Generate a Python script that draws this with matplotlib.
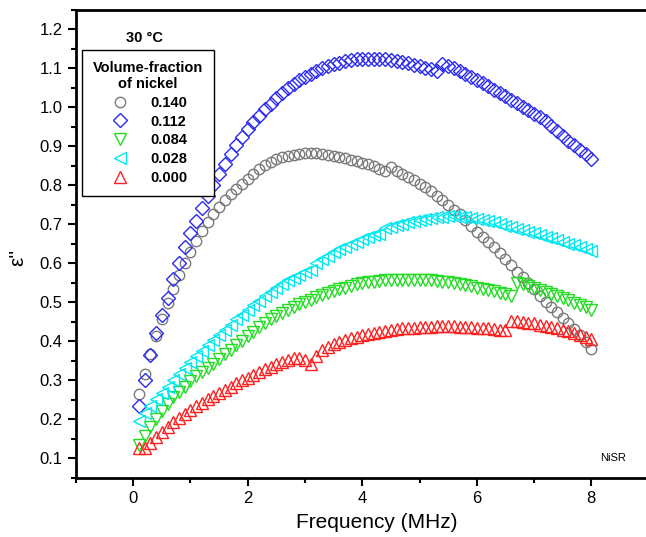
import matplotlib
matplotlib.use("Agg")
import matplotlib.pyplot as plt
from matplotlib.ticker import MultipleLocator

plt.rcParams['font.family'] = ['Liberation Sans', 'DejaVu Sans']

freq = [round(0.1 * i, 1) for i in range(1, 81)]

eps_0140 = [0.264, 0.317, 0.368, 0.414, 0.457, 0.497, 0.534, 0.570, 0.600, 0.630,
            0.658, 0.684, 0.705, 0.726, 0.744, 0.762, 0.778, 0.791, 0.804, 0.816,
            0.830, 0.843, 0.853, 0.861, 0.867, 0.872, 0.876, 0.879, 0.881, 0.882,
            0.882, 0.882, 0.881, 0.879, 0.876, 0.873, 0.870, 0.866, 0.862, 0.858,
            0.854, 0.849, 0.843, 0.836, 0.846, 0.838, 0.830, 0.822, 0.813, 0.803,
            0.795, 0.785, 0.774, 0.762, 0.750, 0.738, 0.726, 0.711, 0.696, 0.680,
            0.667, 0.654, 0.641, 0.627, 0.611, 0.595, 0.579, 0.564, 0.549, 0.533,
            0.515, 0.500, 0.487, 0.474, 0.461, 0.447, 0.432, 0.415, 0.398, 0.381]

eps_0112 = [0.235, 0.301, 0.366, 0.422, 0.467, 0.512, 0.559, 0.602, 0.641, 0.679,
            0.709, 0.742, 0.774, 0.802, 0.830, 0.856, 0.880, 0.903, 0.924, 0.944,
            0.962, 0.979, 0.995, 1.010, 1.024, 1.037, 1.049, 1.060, 1.070, 1.079,
            1.087, 1.094, 1.100, 1.106, 1.111, 1.115, 1.118, 1.121, 1.123, 1.124,
            1.125, 1.125, 1.124, 1.123, 1.121, 1.119, 1.116, 1.113, 1.110, 1.106,
            1.102, 1.098, 1.093, 1.112, 1.106, 1.100, 1.093, 1.086, 1.078, 1.070,
            1.062, 1.054, 1.046, 1.038, 1.029, 1.020, 1.011, 1.002, 0.993, 0.984,
            0.975, 0.965, 0.953, 0.940, 0.927, 0.914, 0.903, 0.892, 0.880, 0.868]

eps_0084 = [0.135, 0.158, 0.180, 0.201, 0.221, 0.240, 0.256, 0.270, 0.284, 0.298,
            0.310, 0.321, 0.332, 0.343, 0.355, 0.367, 0.378, 0.390, 0.402, 0.414,
            0.425, 0.436, 0.446, 0.456, 0.465, 0.473, 0.481, 0.488, 0.495, 0.501,
            0.507, 0.513, 0.519, 0.524, 0.529, 0.534, 0.538, 0.542, 0.546, 0.549,
            0.551, 0.553, 0.555, 0.556, 0.557, 0.558, 0.558, 0.558, 0.558, 0.558,
            0.557, 0.556, 0.555, 0.553, 0.551, 0.549, 0.547, 0.544, 0.541, 0.538,
            0.535, 0.532, 0.529, 0.525, 0.521, 0.517, 0.550, 0.546, 0.542, 0.537,
            0.532, 0.527, 0.522, 0.516, 0.511, 0.505, 0.499, 0.493, 0.487, 0.481]

eps_0028 = [0.195, 0.215, 0.233, 0.251, 0.268, 0.284, 0.300, 0.316, 0.331, 0.346,
            0.361, 0.376, 0.390, 0.404, 0.417, 0.430, 0.443, 0.456, 0.468, 0.480,
            0.492, 0.504, 0.515, 0.526, 0.536, 0.546, 0.556, 0.563, 0.570, 0.578,
            0.584, 0.600, 0.610, 0.619, 0.628, 0.636, 0.643, 0.650, 0.656, 0.662,
            0.667, 0.672, 0.676, 0.690, 0.694, 0.698, 0.702, 0.706, 0.709, 0.712,
            0.715, 0.717, 0.719, 0.720, 0.721, 0.721, 0.720, 0.719, 0.717, 0.714,
            0.711, 0.708, 0.705, 0.701, 0.697, 0.693, 0.689, 0.685, 0.681, 0.677,
            0.673, 0.668, 0.664, 0.659, 0.655, 0.650, 0.646, 0.641, 0.637, 0.632]

eps_0000 = [0.125, 0.126, 0.140, 0.155, 0.168, 0.180, 0.192, 0.203, 0.213, 0.223,
            0.233, 0.242, 0.251, 0.260, 0.268, 0.276, 0.284, 0.292, 0.300, 0.307,
            0.314, 0.321, 0.328, 0.335, 0.341, 0.347, 0.353, 0.358, 0.358, 0.352,
            0.342, 0.362, 0.377, 0.386, 0.393, 0.399, 0.404, 0.408, 0.412, 0.416,
            0.419, 0.422, 0.425, 0.427, 0.429, 0.431, 0.433, 0.434, 0.435, 0.436,
            0.437, 0.437, 0.438, 0.438, 0.438, 0.438, 0.437, 0.437, 0.436, 0.435,
            0.434, 0.433, 0.432, 0.430, 0.428, 0.453, 0.452, 0.450, 0.448, 0.446,
            0.443, 0.440, 0.437, 0.434, 0.430, 0.426, 0.422, 0.417, 0.412, 0.407]

labels = ['0.140', '0.112', '0.084', '0.028', '0.000']
series = [eps_0140, eps_0112, eps_0084, eps_0028, eps_0000]
markers = ['o', 'D', 'v', '<', '^']
colors = ['#7a7a7a', '#2a2af0', '#22dd22', '#00e8f0', '#ff2020']
sizes = [7.5, 7, 8.5, 8.5, 8.5]

fig = plt.figure(figsize=(6.46, 5.37), dpi=100)
ax = fig.add_axes([0.1176, 0.1104, 0.8864, 0.871])

for y, lab, m, c, s in zip(series, labels, markers, colors, sizes):
    ax.plot(freq, y, linestyle='none', marker=m, markersize=s,
            markerfacecolor='none', markeredgecolor=c, markeredgewidth=1.0,
            label=lab)

ax.set_xlim(-1, 9)
ax.set_ylim(0.05, 1.25)
ax.xaxis.set_major_locator(MultipleLocator(2))
ax.xaxis.set_minor_locator(MultipleLocator(1))
ax.yaxis.set_major_locator(MultipleLocator(0.1))
ax.yaxis.set_minor_locator(MultipleLocator(0.05))
ax.tick_params(which='major', direction='out', length=6, width=1.5, labelsize=12)
ax.tick_params(which='minor', direction='out', length=3.5, width=1.5)
ax.tick_params(top=False, right=False)
for sp in ax.spines.values():
    sp.set_linewidth(2)

ax.set_xlabel('Frequency (MHz)', fontsize=15)
ax.set_ylabel("ε''", fontsize=15)
ax.xaxis.set_label_coords(0.525, -0.075)
ax.yaxis.set_label_coords(-0.085, 0.472)

ax.text(0.12, 0.94, '30 °C', transform=ax.transAxes, fontsize=10.5,
        fontweight='bold', ha='center', va='center')
ax.text(8.15, 0.1, 'NiSR', fontsize=8, ha='left', va='center')

leg = ax.legend(loc='upper left', bbox_to_anchor=(0.0105, 0.915),
                borderaxespad=0, title='Volume-fraction\nof nickel',
                fancybox=False, edgecolor='black', framealpha=1,
                handlelength=1.5, handletextpad=1.3, borderpad=0.75,
                labelspacing=0.33, prop={'weight': 'bold', 'size': 10.5})
leg.get_title().set_fontweight('bold')
leg.get_title().set_fontsize(10.5)
leg.get_title().set_multialignment('center')
leg.get_frame().set_linewidth(1.0)

fig.savefig('out.png', dpi=100)
